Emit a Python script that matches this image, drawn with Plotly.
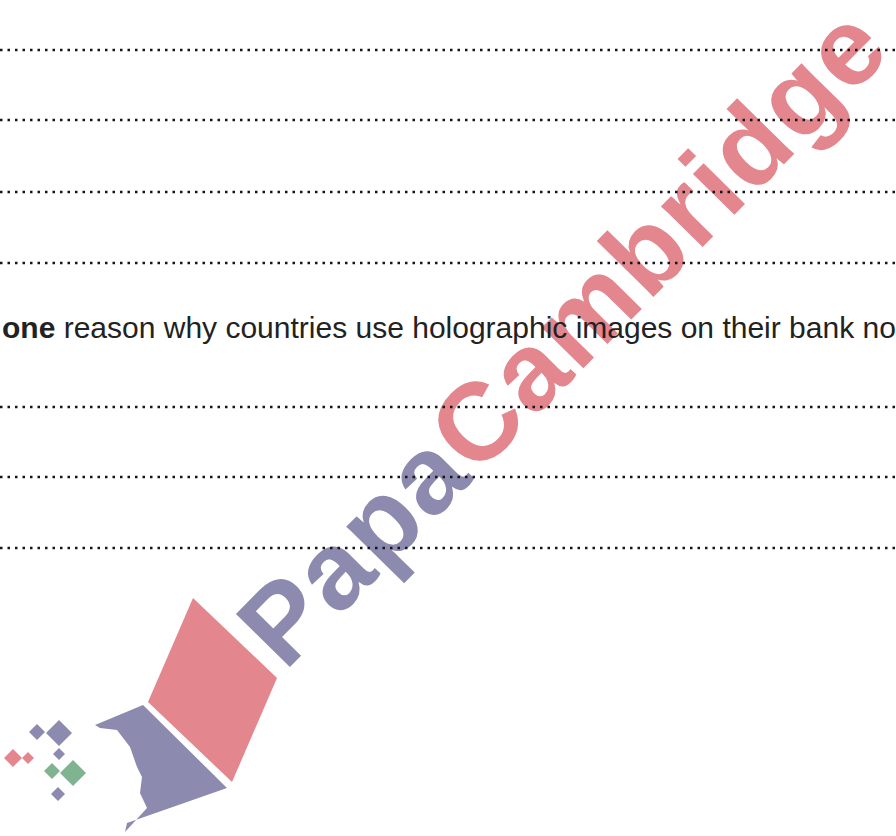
import plotly.graph_objects as go

W, H = 896, 836

# answer-line positions (page pixel rows)
line_rows = [50, 120, 192, 263, 407, 477, 548]
question_parts = ["one", " reason why countries use holographic images on their bank no"]
watermark_parts = ["Papa", "Cambridge"]

PURPLE = "#8d8ab0"
PINK = "#e3868d"
GREEN = "#80b491"

fig = go.Figure()

for yv in line_rows:
    fig.add_trace(go.Scatter(x=[0, W], y=[yv, yv], mode="lines",
                             line=dict(color="#151515", width=2.5, dash="2.5px,5px"),
                             hoverinfo="skip", showlegend=False))

# logo polygons
pink_quad = [(193, 598), (277, 678), (232, 782), (148, 702)]
purple_shape = [(143, 705), (227, 788), (127, 823), (125, 832), (147, 808), (140, 793),
                (142, 777), (137, 767), (130, 747), (117, 730), (100, 728), (95, 725)]

def path(pts):
    return "M " + " L ".join(f"{x},{y}" for x, y in pts) + " Z"

shapes = [
    dict(type="path", path=path(pink_quad), fillcolor=PINK, line=dict(width=0), layer="below"),
    dict(type="path", path=path(purple_shape), fillcolor=PURPLE, line=dict(width=0), layer="below"),
]

diamonds = [(37, 732, 8, PURPLE), (59, 733, 13, PURPLE), (59, 754, 6, PURPLE),
            (13, 758, 9, PINK), (28, 758, 6, PINK), (52, 771, 8, GREEN),
            (73, 773, 13, GREEN), (58, 794, 7, PURPLE)]
for cx, cy, r, c in diamonds:
    shapes.append(dict(type="path",
                       path=path([(cx, cy - r), (cx + r, cy), (cx, cy + r), (cx - r, cy)]),
                       fillcolor=c, line=dict(width=0), layer="below"))

# watermark text as a label of an invisible rectangle (drawn beneath the dotted lines)
wm_cx, wm_cy = 555, 328
shapes.append(dict(
    type="rect", x0=wm_cx - 10, x1=wm_cx + 10, y0=wm_cy - 10, y1=wm_cy + 10,
    line=dict(width=0), fillcolor="rgba(0,0,0,0)", layer="below",
    label=dict(
        text=(f"<span style='color:{PURPLE};letter-spacing:2.5px'>{watermark_parts[0]}</span>"
              f"<span style='color:{PINK};letter-spacing:2.5px'>{watermark_parts[1]}</span>"),
        textangle=-45.5, textposition="middle center",
        xanchor="center", yanchor="middle",
        font=dict(family="Liberation Sans", size=110, weight="bold", color=PINK)),
))

annotations = [
    dict(x=0, y=327, xref="x", yref="y", xanchor="left", yanchor="middle", showarrow=False,
         text=f"<b>{question_parts[0]}</b>{question_parts[1]}",
         font=dict(family="Liberation Sans", size=30, color="#222222")),
]

fig.update_layout(
    width=W, height=H, margin=dict(l=0, r=0, t=0, b=0),
    paper_bgcolor="white", plot_bgcolor="rgba(0,0,0,0)",
    xaxis=dict(range=[0, W], visible=False, fixedrange=True),
    yaxis=dict(range=[H, 0], visible=False, fixedrange=True),
    shapes=shapes, annotations=annotations, showlegend=False,
)

fig.write_html("out.html", config={"displayModeBar": False},
               post_script="document.body.style.margin='0px';")
